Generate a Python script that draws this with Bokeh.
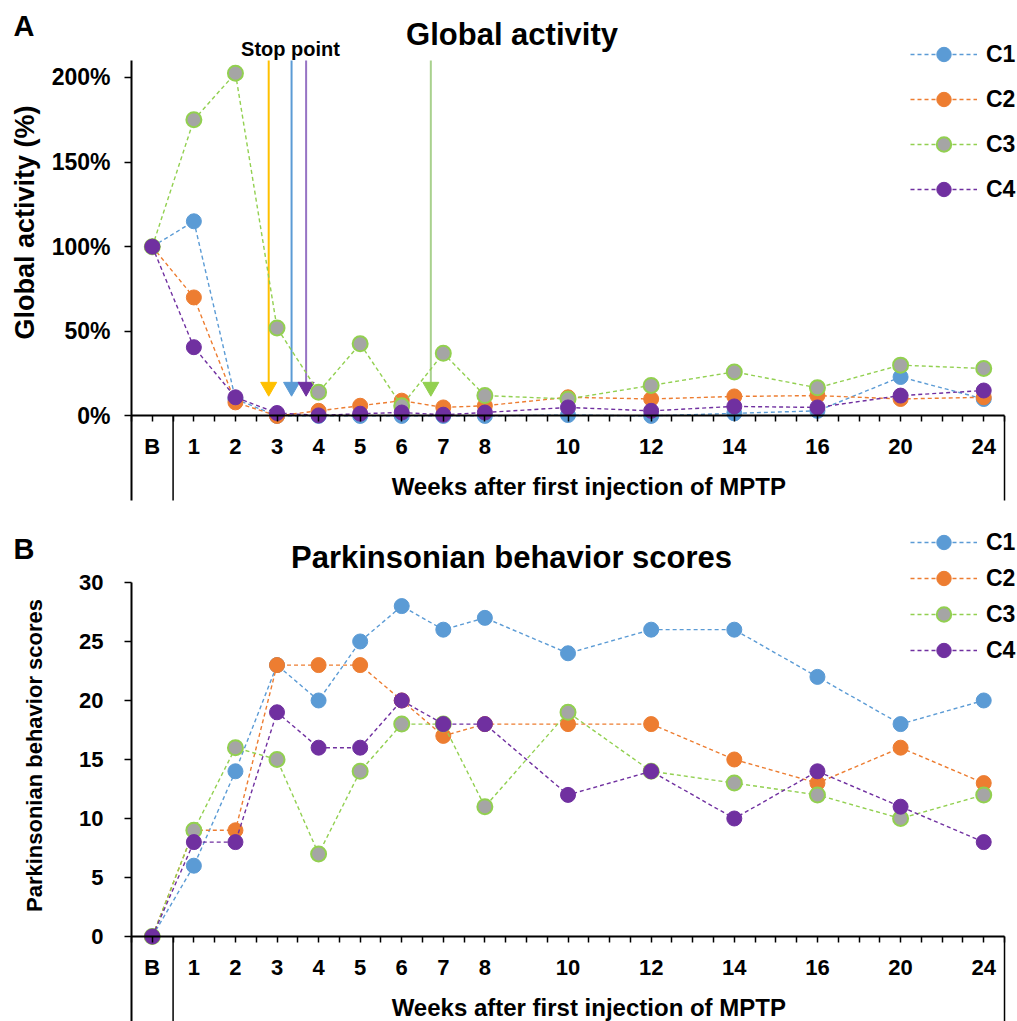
import math
from bokeh.plotting import figure
from bokeh.layouts import column
from bokeh.models import FixedTicker, NumeralTickFormatter, Label, Legend, LegendItem
from bokeh.embed import file_html
from bokeh.resources import INLINE

# ---------------- data ----------------
week_labels = ["B", "1", "2", "3", "4", "5", "6", "7", "8", "10", "12", "14", "16", "20", "24"]
series_names = ["C1", "C2", "C3", "C4"]

# Global activity (%), panel A
ga_c1 = [100, 115, 10, 0, 0, 0, 0, 0, 0, 0.5, 0, 1.5, 3, 23, 10]
ga_c2 = [100, 70, 8, 0, 3, 6, 9, 5, 6, 11, 10, 11.5, 12, 10, 11]
ga_c3 = [100, 175, 202.5, 52, 14, 42.6, 6, 37, 12, 10, 18, 26, 16.6, 30, 28]
ga_c4 = [100, 40.6, 11, 1.7, 0.3, 1.3, 2, 0.7, 2, 5, 3, 5.6, 5, 12, 15]

# Parkinsonian behavior scores, panel B
pb_c1 = [0, 6, 14, 23, 20, 25, 28, 26, 27, 24, 26, 26, 22, 18, 20]
pb_c2 = [0, 9, 9, 23, 23, 23, 20, 17, 18, 18, 18, 15, 13, 16, 13]
pb_c3 = [0, 9, 16, 15, 7, 14, 18, 18, 11, 19, 14, 13, 12, 10, 12]
pb_c4 = [0, 8, 8, 19, 16, 16, 20, 18, 18, 12, 14, 10, 14, 11, 8]

# stop points (weeks) for the arrows in panel A
stop_weeks = [2.8, 3.35, 3.7, 6.7]

# ---------------- styling / layout ----------------
FONT = "Liberation Sans"
line_colors = ["#5B9BD5", "#ED7D31", "#92D050", "#7030A0"]
fill_colors = ["#5B9BD5", "#ED7D31", "#A5A5A5", "#7030A0"]
edge_colors = ["#5B9BD5", "#ED7D31", "#92D050", "#7030A0"]
edge_widths = [1, 1, 2, 1]
stop_line_colors = ["#FFC000", "#5B9BD5", "#9673C4", "#A9D18E"]
stop_head_colors = ["#FFC000", "#5B9BD5", "#7030A0", "#92D050"]

W = 1017
X0_PX, XSCALE = 151.8, 873 / 21.0          # page x of "B", pixels per unit
X_RANGE = (-X0_PX / XSCALE, (W - X0_PX) / XSCALE)
X_LO, X_HI = -0.5, 20.5                     # drawn axis extent


def axis_pos(w):
    """Excel-like category placement: weekly up to 16, then compressed."""
    if w == "B":
        return 0.0
    w = float(w)
    return w if w <= 16 else 16 + (w - 16) / 2


xs = [axis_pos(w) for w in week_labels]
major = xs
all_half = [i * 0.5 for i in range(-1, 42)]
minor = [t for t in all_half if t not in major]


def xd(px):
    return (px - X0_PX) / XSCALE


def make_fig(height, y_range, y_bounds):
    p = figure(frame_width=W, frame_height=height, x_range=X_RANGE, y_range=y_range,
               min_border_left=0, min_border_right=0, min_border_top=0, min_border_bottom=0,
               output_backend="svg", toolbar_location=None)
    p.grid.visible = False
    p.outline_line_color = None
    p.background_fill_color = "white"
    xa = p.xaxis[0]
    xa.fixed_location = 0
    xa.bounds = (X_LO, X_HI)
    xa.ticker = FixedTicker(ticks=major, minor_ticks=minor)
    xa.major_label_overrides = {pos: lbl for pos, lbl in zip(major, week_labels)}
    xa.major_label_text_font = FONT
    xa.major_label_text_font_style = "bold"
    xa.major_label_text_font_size = "22px"
    xa.major_label_text_color = "black"
    xa.major_label_standoff = 12
    xa.axis_line_width = 2
    xa.axis_line_color = "black"
    xa.major_tick_out = 6
    xa.major_tick_in = 0
    xa.minor_tick_out = 6
    xa.minor_tick_in = 0
    xa.major_tick_line_width = 1.5
    xa.minor_tick_line_width = 1.5
    xa.major_tick_line_color = "black"
    xa.minor_tick_line_color = "black"
    ya = p.yaxis[0]
    ya.fixed_location = X_LO
    ya.bounds = y_bounds
    ya.axis_line_width = 2
    ya.axis_line_color = "black"
    ya.major_tick_out = 7
    ya.major_tick_in = 0
    ya.minor_tick_out = 0
    ya.minor_tick_in = 0
    ya.major_tick_line_width = 1.5
    ya.major_tick_line_color = "black"
    ya.major_label_text_font = FONT
    ya.major_label_text_font_style = "bold"
    ya.major_label_text_color = "black"
    return p


def add_series(p, series):
    items = []
    for i, vals in enumerate(series):
        lr = p.line(xs, vals, line_color=line_colors[i], line_width=1.4, line_dash="4 3")
        sr = p.scatter(xs, vals, size=15, fill_color=fill_colors[i], line_color=edge_colors[i],
                       line_width=edge_widths[i])
        items.append(LegendItem(label=series_names[i], renderers=[lr, sr]))
    return items


def add_legend(p, items, loc, spacing):
    lg = Legend(items=items, location=loc, glyph_width=67, glyph_height=36, label_height=36,
                spacing=spacing, padding=0, margin=0, border_line_color=None,
                background_fill_alpha=0, label_text_font=FONT, label_text_font_style="bold",
                label_text_font_size="23px", label_text_color="black", label_standoff=9)
    p.add_layout(lg)


def add_text(p, x, y, txt, size, align="center", angle=0.0):
    p.add_layout(Label(x=x, y=y, text=txt, text_font=FONT, text_font_style="bold",
                       text_font_size=size, text_color="black", text_align=align,
                       text_baseline="middle", angle=angle))


# ---------------- Panel A ----------------
A_H = 520
A_ZERO_PX, A_SCALE = 415.4, 169.23
A_TOP_V = 2.1
A_BOT_V = -0.5


def ya_(py):
    return (A_ZERO_PX - py) / A_SCALE


pA = make_fig(A_H, (ya_(A_H), ya_(0)), (A_BOT_V, A_TOP_V))
yaA = pA.yaxis[0]
yaA.ticker = FixedTicker(ticks=[0, 0.5, 1, 1.5, 2])
yaA.formatter = NumeralTickFormatter(format="0%")
yaA.major_label_text_font_size = "23px"
yaA.major_label_standoff = 14

# separators below the axis
pA.segment(x0=[0.5, X_HI], y0=[0, 0], x1=[0.5, X_HI], y1=[A_BOT_V, A_BOT_V],
           line_color="black", line_width=1.5)

# stop point arrows
stop_pos = [axis_pos(w) for w in stop_weeks]
HEAD_LEVEL = 0.171
pA.segment(x0=stop_pos, y0=[A_TOP_V] * 4, x1=stop_pos, y1=[HEAD_LEVEL] * 4,
           line_color=stop_line_colors, line_width=2)
pA.scatter(stop_pos, [HEAD_LEVEL] * 4, marker="inverted_triangle", size=16,
           fill_color=stop_head_colors, line_color=stop_head_colors)

itemsA = add_series(pA, [[v / 100 for v in s] for s in (ga_c1, ga_c2, ga_c3, ga_c4)])
add_legend(pA, itemsA, (910, A_H - 207), 9)

add_text(pA, xd(13), ya_(25), "A", "29px", "left")
add_text(pA, xd(511.5), ya_(34), "Global activity", "31px")
add_text(pA, xd(290), ya_(48), "Stop point", "20px")
add_text(pA, 10.5, ya_(486), "Weeks after first injection of MPTP", "24px")
add_text(pA, xd(24), ya_(222), "Global activity (%)", "27px", angle=math.pi / 2)

# ---------------- Panel B ----------------
B_PAGE_TOP = 520
B_H = 501
B_ZERO_PX, B_SCALE = 936.0, 11.801
B_TOP_V = 30


def yb_(py_page):
    return (B_ZERO_PX - py_page) / B_SCALE


B_BOT_V = yb_(B_PAGE_TOP + B_H)
pB = make_fig(B_H, (B_BOT_V, yb_(B_PAGE_TOP)), (B_BOT_V, B_TOP_V))
yaB = pB.yaxis[0]
yaB.ticker = FixedTicker(ticks=[0, 5, 10, 15, 20, 25, 30])
yaB.major_label_text_font_size = "22px"
yaB.major_label_standoff = 21

pB.segment(x0=[0.5, X_HI], y0=[0, 0], x1=[0.5, X_HI], y1=[B_BOT_V, B_BOT_V],
           line_color="black", line_width=1.5)

itemsB = add_series(pB, [pb_c1, pb_c2, pb_c3, pb_c4])
add_legend(pB, itemsB, (910, B_PAGE_TOP + B_H - 668), 0)

add_text(pB, xd(13), yb_(548.5), "B", "29px", "left")
add_text(pB, xd(511), yb_(557), "Parkinsonian behavior scores", "31px")
add_text(pB, 10.5, yb_(1007), "Weeks after first injection of MPTP", "24px")
add_text(pB, xd(34), yb_(755), "Parkinsonian behavior scores", "22px", angle=math.pi / 2)

layout = column(pA, pB, spacing=0)
open("out.html", "w").write(file_html(layout, INLINE))
